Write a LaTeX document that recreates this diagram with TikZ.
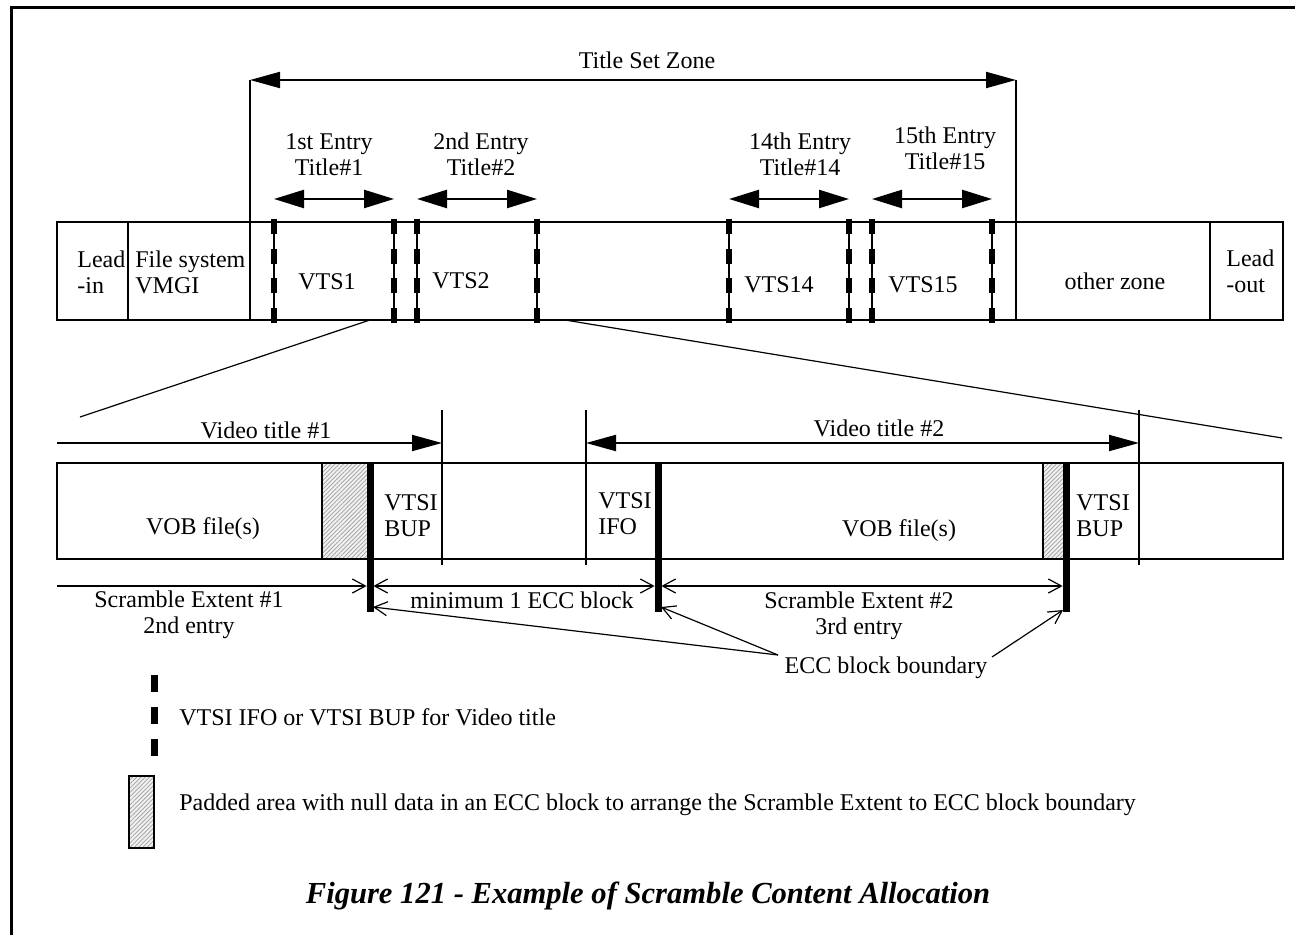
\documentclass[tikz,border=0pt]{standalone}
\usepackage{fontspec}
\setmainfont{Liberation Serif}
\usetikzlibrary{arrows.meta,patterns.meta}

\tikzset{
  txt/.style={font=\fontsize{12}{13}\selectfont,inner sep=0pt,anchor=base},
  txtl/.style={txt,anchor=base west,align=left},
  txtc/.style={txt,align=center},
  band/.style={draw,line width=1.2pt},
  divider/.style={line width=1pt},
  thinline/.style={line width=0.6pt},
  vtsmark/.style={line width=3.2pt,dash pattern=on 7.5pt off 7.33pt},
  eccmark/.style={line width=3.5pt},
  padded/.style={draw,line width=0.8pt,preaction={fill=gray!12},
    pattern={Lines[angle=45,distance=1.5pt,line width=0.35pt]},pattern color=gray!75},
  ztip/.tip={Triangle[length=15pt,width=8pt]},
  etip/.tip={Triangle[length=15pt,width=9pt]},
  barb/.tip={Straight Barb[length=6.5pt,width=7pt]},
}

\begin{document}
\begin{tikzpicture}[x=0.5pt,y=-0.5pt]
\useasboundingbox (0,0) rectangle (1295,935);
% frame
\draw[line width=1.5pt] (11,935) -- (11,8) -- (1295,8);

% disc layout
\draw[band] (57,222) rectangle (1283,320);
\foreach \x in {128,1210} \draw[divider] (\x,222) -- (\x,320);
\coordinate (zoneL) at (250,80);
\coordinate (zoneR) at (1016,80);
\draw[divider] (zoneL) -- (250,320);
\draw[divider] (zoneR) -- (1016,320);
\draw[divider,ztip-ztip] (zoneL) -- (zoneR);
\node[txt] (zonelbl) at (647,69) {Title Set Zone};

% entries (last line baseline given)
\foreach \a/\b/\c/\y/\ordn/\tno [count=\i] in {274/394/329/176/1st/1, 417/537/481/176/2nd/2,
    729/849/800/176/14th/14, 872/992/945/170/15th/15}{
  \coordinate (ent\i-a) at (\a,199);
  \coordinate (ent\i-b) at (\b,199);
  \draw[line width=1.2pt,etip-etip] (ent\i-a) -- (ent\i-b);
  \node[txtc] (entlbl\i) at (\c,\y) {\ordn\ Entry\\Title\#\tno};
}
\foreach \x in {274,394,417,537,729,849,872,992}{
  \draw[thinline] (\x,222) -- (\x,320);
  \draw[vtsmark] (\x,219) -- (\x,323);
}
\node[txtl] (leadin) at (77,294) {Lead\\-in};
\node[txtl] (vmgi) at (135,294) {File system\\VMGI};
\node[txt] (vts1) at (327,290) {VTS1};
\node[txt] (vts2) at (461,289) {VTS2};
\node[txt] (vts14) at (779,293) {VTS14};
\node[txt] (vts15) at (923,293) {VTS15};
\node[txt] (other) at (1115,290) {other zone};
\node[txtl] (leadout) at (1226,293) {Lead\\-out};

% zoom lines
\coordinate (cutL1) at (370,320);
\coordinate (cutL2) at (80,417);
\coordinate (cutR1) at (565,320);
\coordinate (cutR2) at (1282,438);
\draw[thinline] (cutL1) -- (cutL2);
\draw[thinline] (cutR1) -- (cutR2);

% title set detail
\draw[padded] (322,463) rectangle (368,559);
\draw[padded] (1043,463) rectangle (1064,559);
\draw[band] (57,463) rectangle (1283,559);
\foreach \x in {442,586,1139} \draw[divider] (\x,410) -- (\x,565);
\foreach \x/\k in {370/1,658/2,1066/3}{
  \draw[eccmark] (\x,463) -- (\x,612);
  \coordinate (sc\k) at (\x,586);
}
\coordinate (ecc1) at (373,607);
\coordinate (ecc2) at (661,607);
\coordinate (ecc3) at (1063,610);

\coordinate (vt1a) at (57,443);
\coordinate (vt1b) at (442,443);
\coordinate (vt2a) at (586,443);
\coordinate (vt2b) at (1139,443);
\draw[divider,-ztip] (vt1a) -- (vt1b);
\draw[divider,ztip-ztip] (vt2a) -- (vt2b);
\node[txt] (vtl1) at (266,438) {Video title \#1};
\node[txt] (vtl2) at (879,437) {Video title \#2};

\node[txt] (vob1) at (203,534) {VOB file(s)};
\node[txtl] (bup1) at (384,536) {VTSI\\BUP};
\node[txtl] (ifo2) at (598,534) {VTSI\\IFO};
\node[txt] (vob2) at (899,536) {VOB file(s)};
\node[txtl] (bup2) at (1076,536) {VTSI\\BUP};

% scramble extents
\coordinate (sc0) at (57,586);
\draw[thinline,-barb,shorten >=1.7pt] (sc0) -- (sc1);
\draw[thinline,barb-barb,shorten <=1.7pt,shorten >=1.7pt] (sc1) -- (sc2);
\draw[thinline,barb-barb,shorten <=1.7pt,shorten >=1.7pt] (sc2) -- (sc3);
\node[txtc] (se1) at (189,633) {Scramble Extent \#1\\2nd entry};
\node[txt] (minecc) at (522,608) {minimum 1 ECC block};
\node[txtc] (se2) at (859,634) {Scramble Extent \#2\\3rd entry};

\node[txt] (ecclbl) at (886,673) {ECC block boundary};
\coordinate (eccJ) at (778,655);
\coordinate (eccK) at (992,657);
\draw[thinline,-barb] (eccJ) -- (ecc1);
\draw[thinline,-barb] (eccJ) -- (ecc2);
\draw[thinline,-barb] (eccK) -- (ecc3);

% legend
\coordinate (legA) at (154,675);
\coordinate (legB) at (154,756);
\draw[eccmark,dash pattern=on 8.5pt off 7.5pt] (legA) -- (legB);
\node[txtl] (leg1) at (179,725) {VTSI IFO or VTSI BUP for Video title};
\draw[padded] (129,776) rectangle (154,848);
\node[txtl] (leg2) at (179,810) {Padded area with null data in an ECC block to arrange the Scramble Extent to ECC block boundary};

\node[font=\fontsize{15.3}{18}\selectfont\bfseries\itshape,inner sep=0pt,anchor=base] (caption) at (648,903)
  {Figure 121 - Example of Scramble Content Allocation};
\end{tikzpicture}
\end{document}
